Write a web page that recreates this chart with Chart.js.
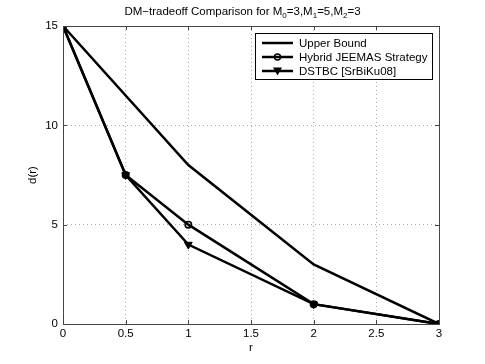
<!DOCTYPE html>
<html><head><meta charset="utf-8">
<script src="https://cdn.jsdelivr.net/npm/chart.js@4/dist/chart.umd.min.js"></script>
<style>
html,body{margin:0;padding:0;background:#fff;}
#wrap{position:relative;width:485px;height:364px;}
#title{position:absolute;left:0;top:5px;width:485px;text-align:center;font-family:"Liberation Sans",Arial,sans-serif;font-size:11.5px;color:#000;}
#title sub{font-size:8px;}
canvas{position:absolute;left:0;top:0;}
</style></head><body>
<div id="wrap"><canvas id="c" width="485" height="364"></canvas>
<div id="title">DM−tradeoff Comparison for M<sub>0</sub>=3,M<sub>1</sub>=5,M<sub>2</sub>=3</div></div>
<script>
const upperX = [0, 1, 2, 3];
const upperY = [15, 8, 3, 0];
const hybridX = [0, 0.5, 1, 2, 3];
const hybridY = [15, 7.5, 5, 1, 0];
const dstbcX = [0, 0.5, 1, 2, 3];
const dstbcY = [15, 7.5, 4, 1, 0];
const seriesNames = ['Upper Bound', 'Hybrid JEEMAS Strategy', 'DSTBC [SrBiKu08]'];
const xTicks = [0, 0.5, 1, 1.5, 2, 2.5, 3];
const yTicks = [0, 5, 10, 15];

const FONT = '"Liberation Sans", Arial, sans-serif';
const pts = (xs, ys) => xs.map((x, i) => ({x: x, y: ys[i]}));

const frame = {
  id: 'frame',
  afterDatasetsDraw(chart) {
    const {ctx, chartArea: a, scales: {x, y}} = chart;
    ctx.save();
    ctx.strokeStyle = '#444';
    ctx.lineWidth = 1;
    ctx.beginPath();
    xTicks.forEach(t => { const px = Math.round(x.getPixelForValue(t)) + 0.5;
      ctx.moveTo(px, a.bottom); ctx.lineTo(px, a.bottom - 4);
      ctx.moveTo(px, a.top); ctx.lineTo(px, a.top + 4); });
    yTicks.forEach(t => { const py = Math.round(y.getPixelForValue(t)) + 0.5;
      ctx.moveTo(a.left, py); ctx.lineTo(a.left + 4, py);
      ctx.moveTo(a.right, py); ctx.lineTo(a.right - 4, py); });
    ctx.stroke();
    ctx.strokeRect(Math.round(a.left) + 0.5, Math.round(a.top) + 0.5, Math.round(a.right - a.left), Math.round(a.bottom - a.top));
    // legend
    const lx = 255, ly = 33, lw = 177, lh = 46;
    ctx.fillStyle = '#fff';
    ctx.fillRect(lx, ly, lw, lh);
    ctx.strokeStyle = '#000';
    ctx.strokeRect(lx + 0.5, ly + 0.5, lw, lh);
    const rows = [43, 57, 71];
    ctx.font = '11.5px ' + FONT;
    ctx.textBaseline = 'middle';
    rows.forEach((ry, i) => {
      ctx.strokeStyle = '#000'; ctx.lineWidth = 2.5;
      ctx.beginPath(); ctx.moveTo(262, ry); ctx.lineTo(293, ry); ctx.stroke();
      if (i === 1) {
        ctx.lineWidth = 1.5;
        ctx.beginPath(); ctx.arc(277.5, ry, 3, 0, Math.PI * 2); ctx.stroke();
      } else if (i === 2) {
        ctx.fillStyle = '#000';
        ctx.beginPath(); ctx.moveTo(273, ry - 3.5); ctx.lineTo(282, ry - 3.5); ctx.lineTo(277.5, ry + 4.5); ctx.closePath(); ctx.fill();
      }
      ctx.fillStyle = '#000';
      ctx.fillText(seriesNames[i], 299, ry + 0.5);
    });
    ctx.restore();
  }
};

new Chart(document.getElementById('c'), {
  type: 'scatter',
  data: {
    datasets: [
      {label: seriesNames[0], data: pts(upperX, upperY), showLine: true, borderColor: '#000', borderWidth: 2.5, pointRadius: 0, backgroundColor: '#000'},
      {label: seriesNames[1], data: pts(hybridX, hybridY), showLine: true, borderColor: '#000', borderWidth: 2.5, pointRadius: 3.2, pointBorderWidth: 1.6, pointBackgroundColor: 'rgba(0,0,0,0)', pointBorderColor: '#000', pointStyle: 'circle'},
      {label: seriesNames[2], data: pts(dstbcX, dstbcY), showLine: true, borderColor: '#000', borderWidth: 2.5, pointRadius: 4.5, pointBorderWidth: 1, pointBackgroundColor: '#000', pointBorderColor: '#000', pointStyle: 'triangle', pointRotation: 180}
    ]
  },
  options: {
    responsive: false, animation: false,
    layout: {padding: {left: 0, top: 26, right: 46, bottom: 0}},
    plugins: {legend: {display: false}, title: {display: false}, tooltip: {enabled: false}},
    scales: {
      x: {
        type: 'linear', min: 0, max: 3,
        afterFit(s) { s.height = 40; },
        afterBuildTicks(s) { s.ticks = xTicks.map(v => ({value: v})); },
        ticks: {color: '#000', font: {family: FONT, size: 11.5}, padding: 3, maxRotation: 0, callback: v => String(v)},
        grid: {color: '#aaa', drawTicks: false, lineWidth: 1},
        border: {display: false, dash: [1, 3]},
        title: {display: true, text: 'r', color: '#000', font: {family: FONT, size: 11.5}, padding: {top: 0, bottom: 9}}
      },
      y: {
        type: 'linear', min: 0, max: 15,
        afterFit(s) { s.width = 63; },
        afterBuildTicks(s) { s.ticks = yTicks.map(v => ({value: v})); },
        ticks: {color: '#000', font: {family: FONT, size: 11.5}, padding: 5, callback: v => String(v)},
        grid: {color: '#aaa', drawTicks: false, lineWidth: 1},
        border: {display: false, dash: [1, 3]},
        title: {display: true, text: 'd(r)', color: '#000', font: {family: FONT, size: 11.5}, padding: {top: 26, bottom: 0}}
      }
    }
  },
  plugins: [frame]
});
</script></body></html>
